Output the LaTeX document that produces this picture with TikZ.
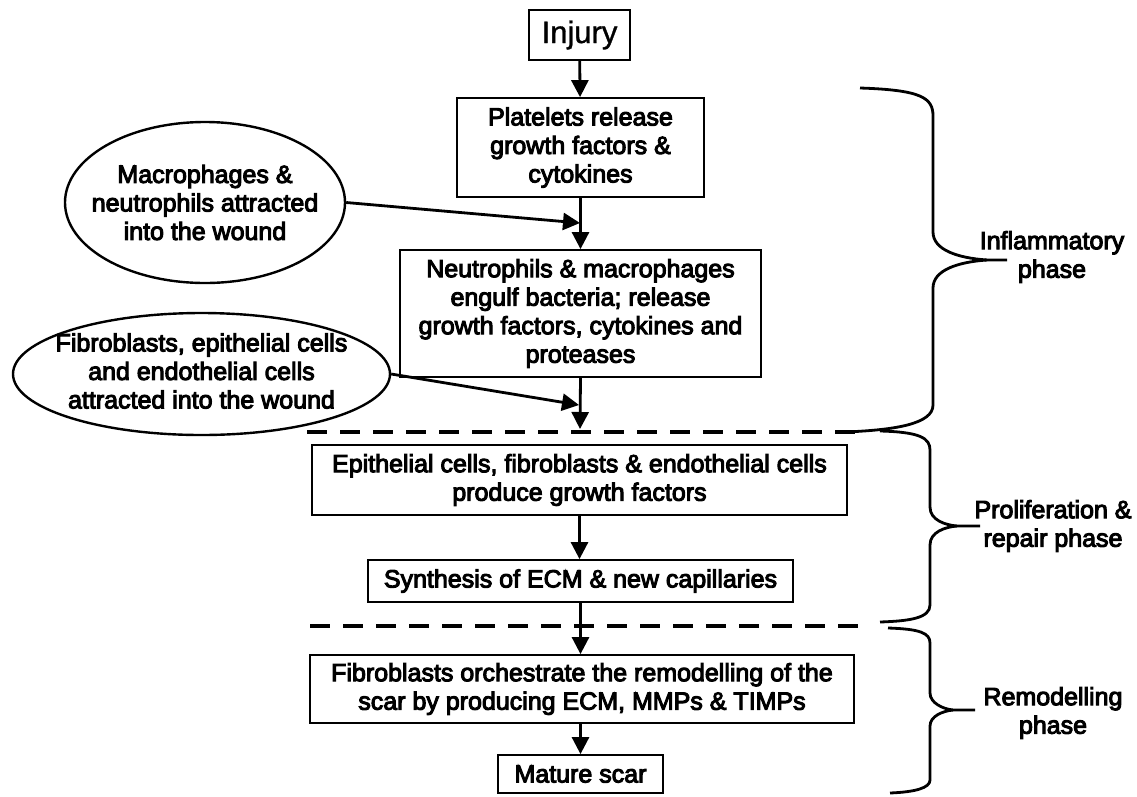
\documentclass[tikz,border=0pt]{standalone}
\usepackage{fontspec}
\usetikzlibrary{arrows.meta,shapes.geometric}
\newfontfamily\diafont[FakeBold=4]{Liberation Sans}
\newfontfamily\injfont[FakeBold=1]{Liberation Sans}
\begin{document}
\begin{tikzpicture}[x=1pt,y=-1pt,
  txt/.style={font=\diafont\fontsize{25}{28.5}\selectfont, align=center, inner sep=0pt},
  boxnode/.style={txt, draw, line width=1.8pt},
  ellnode/.style={draw, ellipse, line width=2.4pt, inner sep=0pt},
  arr/.style={line width=2.8pt, -{Triangle[width=17pt,length=17pt]}},
  phaseline/.style={line width=4.5pt, dash pattern=on 20pt off 13pt},
  bracestyle/.style={line width=2.8pt},
  lab/.style={txt}
]
\useasboundingbox (0,0) rectangle (1137,796);
\fill[white] (0,0) rectangle (1137,796);

% main boxes
\node[boxnode, font=\injfont\fontsize{31}{34}\selectfont, minimum width=101pt, minimum height=50pt] (injury) at (579.5,35) {Injury};
\node[boxnode, minimum width=247pt, minimum height=99pt] (plat) at (580.5,147.5) {Platelets release\\growth factors \&\\cytokines};
\node[boxnode, minimum width=361pt, minimum height=127pt] (neut) at (580.5,313.5) {Neutrophils \& macrophages\\engulf bacteria; release\\growth factors, cytokines and\\proteases};
\node[boxnode, minimum width=535pt, minimum height=70pt] (epi) at (579.5,480) {Epithelial cells, fibroblasts \& endothelial cells\\produce growth factors};
\node[boxnode, minimum width=425pt, minimum height=42pt] (syn) at (580.5,581) {Synthesis of ECM \& new capillaries};
\node[boxnode, minimum width=544pt, minimum height=68pt] (fib) at (582,689) {Fibroblasts orchestrate the remodelling of the\\scar by producing ECM, MMPs \& TIMPs};
\node[boxnode, minimum width=165pt, minimum height=38pt] (mature) at (580.5,774) {Mature scar};

% ellipses (outline) and their texts
\node[ellnode, minimum width=280pt, minimum height=161pt] (mac) at (205,202.5) {};
\node[txt] (mactxt) at (mac.center) {Macrophages \&\\neutrophils attracted\\into the wound};
\node[ellnode, minimum width=377pt, minimum height=122pt] (fibel) at (201.5,374) {};
\node[txt] (fibeltxt) at ([yshift=3pt]fibel.center) {Fibroblasts, epithelial cells\\and endothelial cells\\attracted into the wound};

% junction points
\coordinate (j1) at (580,223);
\coordinate (j2) at (579,405);
\coordinate (d1) at (580,429);

% connectors
\draw[arr] (injury) -- (plat);
\draw[arr] (plat) -- (neut);
\draw[arr] (mac.east) -- (j1);
\draw[arr] (fibel.east) -- (j2);
\draw[arr] (neut.south) -- (d1);
\draw[arr] (epi.south) -- (epi.south |- syn.north);
\draw[arr] (syn.south) -- (syn.south |- fib.north);
\draw[arr] (fib.south -| mature.north) -- (mature.north);

% phase separators
\coordinate (s1a) at (307,432);
\coordinate (s1b) at (865,432);
\coordinate (s2a) at (310,626);
\coordinate (s2b) at (867,626);
\draw[phaseline] (s1a) -- (s1b);
\draw[phaseline] (s2a) -- (s2b);

% braces
\draw[bracestyle] (860,88) .. controls (922,90) and (933,98) .. (933,116) -- (933,232)
  .. controls (933,250) and (958,258) .. (987,260) -- (1007,260);
\draw[bracestyle] (987,260) .. controls (958,262) and (933,270) .. (933,288) -- (933,405)
  .. controls (933,424) and (895,430) .. (845,432);

\draw[bracestyle] (880,431) .. controls (920,432) and (930,438) .. (930,450) -- (930,507)
  .. controls (930,520) and (945,525) .. (957,526) -- (980,526);
\draw[bracestyle] (957,526) .. controls (945,527) and (930,532) .. (930,545) -- (930,605)
  .. controls (930,618) and (910,621) .. (880,622);

\draw[bracestyle] (888,628) .. controls (920,629) and (930,633) .. (930,643) -- (930,693)
  .. controls (930,703) and (943,709) .. (953,710) -- (975,710);
\draw[bracestyle] (953,710) .. controls (943,711) and (930,716) .. (930,726) -- (930,780)
  .. controls (930,788) and (915,792) .. (890,793);

% phase labels
\node[lab] (infl) at (1052,257) {Inflammatory\\phase};
\node[lab] (prol) at (1053,526) {Proliferation \&\\repair phase};
\node[lab] (remo) at (1053,713) {Remodelling\\phase};
\end{tikzpicture}
\end{document}
